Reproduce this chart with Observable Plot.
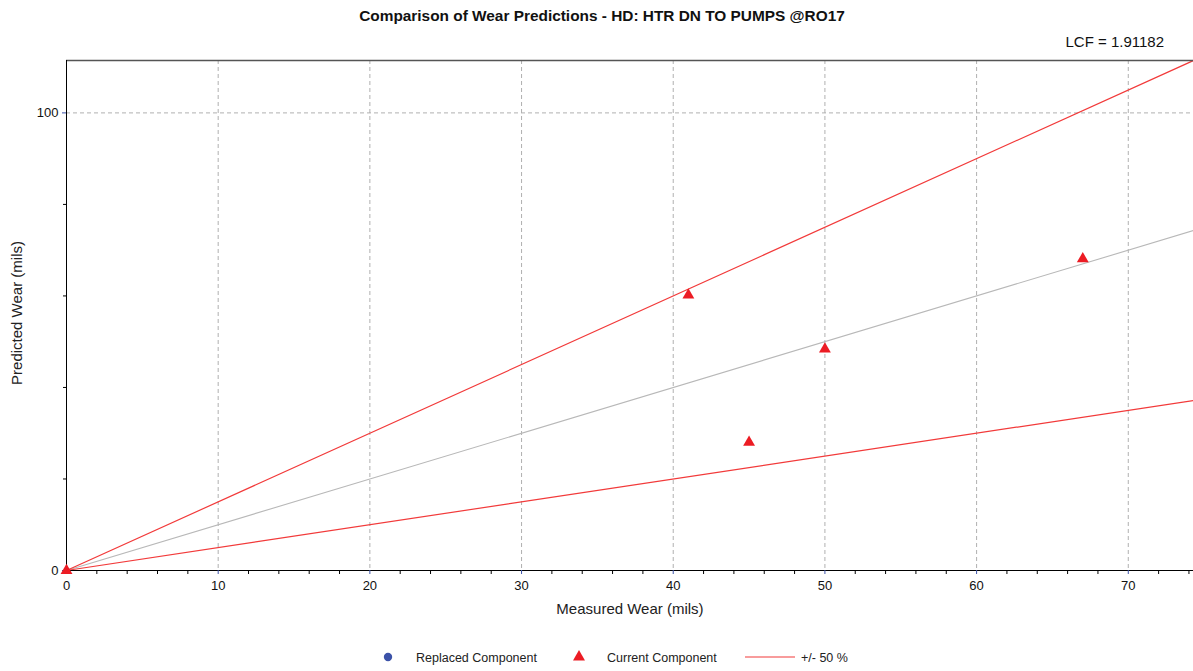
<!DOCTYPE html>
<html>
<head>
<meta charset="utf-8">
<script src="https://cdn.jsdelivr.net/npm/d3@7"></script>
<script src="https://cdn.jsdelivr.net/npm/@observablehq/plot@0.6"></script>
<style>
  html, body { margin: 0; padding: 0; background: #fff; overflow: hidden; }
  #chart svg { display: block; }
</style>
</head>
<body>
<div id="chart"></div>
<script>
// ---- data ----
const titleText = "Comparison of Wear Predictions - HD: HTR DN TO PUMPS @RO17";
const lcfText = "LCF = 1.91182";
const xLabel = "Measured Wear (mils)";
const yLabel = "Predicted Wear (mils)";

const xDomain = [0, 74.3];
const yDomain = [0, 111.45];

const xMajorTicks = [0, 10, 20, 30, 40, 50, 60, 70];
const xMinorTicks = [2, 4, 6, 8, 12, 14, 16, 18, 22, 24, 26, 28, 32, 34, 36, 38, 42, 44, 46, 48, 52, 54, 56, 58, 62, 64, 66, 68, 72, 74];
const yMajorTicks = [0, 100];
const yMinorTicks = [20, 40, 60, 80];
const xGrid = [10, 20, 30, 40, 50, 60, 70];
const yGrid = [100];

// Current component points (measured, predicted)
const currentMeasured = [0, 41, 50, 45, 67];
const currentPredicted = [0, 60.2, 48.4, 28.0, 68.1];

// reference lines (endpoints)
const lineX = [0, 74.3];
const unityY = [0, 74.3];
const upperY = [0, 111.45];
const lowerY = [0, 37.15];

const legendItems = ["Replaced Component", "Current Component", "+/- 50 %"];

const RED = "#ec1c24";
const LINE_RED = "#f23a3a";
const GRAY = "#b8b8b8";
const BLUE = "#3b52a8";

const current = currentMeasured.map((x, i) => ({x, y: currentPredicted[i]}));
const pts = arr => lineX.map((x, i) => ({x, y: arr[i]}));

const chart = Plot.plot({
  width: 1193,
  height: 671,
  marginTop: 60,
  marginBottom: 101,
  marginLeft: 66,
  marginRight: 0,
  style: {fontFamily: "'Liberation Sans', Arial, sans-serif", fontSize: "13px", background: "#fff", color: "#111"},
  x: {domain: xDomain},
  y: {domain: yDomain},
  marks: [
    Plot.ruleX(xGrid, {stroke: "#b0b0b0", strokeDasharray: "4,3"}),
    Plot.ruleY(yGrid, {stroke: "#b0b0b0", strokeDasharray: "4,3"}),
    Plot.line(pts(unityY), {x: "x", y: "y", stroke: GRAY, strokeWidth: 1.1}),
    Plot.line(pts(upperY), {x: "x", y: "y", stroke: LINE_RED, strokeWidth: 1.2}),
    Plot.line(pts(lowerY), {x: "x", y: "y", stroke: LINE_RED, strokeWidth: 1.2}),
    Plot.ruleY([yDomain[1]], {stroke: "#555", strokeWidth: 1.6}),
    Plot.ruleX([xDomain[0]], {stroke: "#000"}),
    Plot.ruleY([yDomain[0]], {stroke: "#000"}),
    Plot.axisX(xMinorTicks, {tickSize: 4, stroke: "#000", text: null, label: null}),
    Plot.axisX(xMajorTicks, {tickSize: 4, tickPadding: 6, stroke: BLUE, fill: "#111", label: null, fontSize: 13}),
    Plot.axisY(yMinorTicks, {tickSize: 3, stroke: "#000", text: null, label: null}),
    Plot.axisY(yMajorTicks, {tickSize: 4, tickPadding: 4, stroke: BLUE, fill: "#111", label: null, fontSize: 13}),
    Plot.dot(current, {x: "x", y: "y", symbol: "triangle", fill: RED, r: 4.4, stroke: "none"})
  ]
});

const svg = d3.select(chart);
const font = "'Liberation Sans', Arial, sans-serif";

svg.append("text")
  .attr("x", 602).attr("y", 21)
  .attr("text-anchor", "middle")
  .attr("font-family", font).attr("font-size", 15.4).attr("font-weight", "bold")
  .attr("fill", "#111")
  .text(titleText);

svg.append("text")
  .attr("x", 1164).attr("y", 47)
  .attr("text-anchor", "end")
  .attr("font-family", font).attr("font-size", 15)
  .attr("fill", "#111")
  .text(lcfText);

svg.append("text")
  .attr("x", 630).attr("y", 614)
  .attr("text-anchor", "middle")
  .attr("font-family", font).attr("font-size", 15)
  .attr("fill", "#222")
  .text(xLabel);

svg.append("text")
  .attr("transform", "translate(22,313) rotate(-90)")
  .attr("text-anchor", "middle")
  .attr("font-family", font).attr("font-size", 15)
  .attr("fill", "#222")
  .text(yLabel);

// legend
const lg = svg.append("g").attr("font-family", font).attr("font-size", 12.5).attr("fill", "#222").attr("text-anchor", "start");
lg.append("path").attr("d", d3.symbol(d3.symbolCircle, 55)()).attr("transform", "translate(388,657)").attr("fill", BLUE);
lg.append("text").attr("x", 416).attr("y", 661.5).attr("text-anchor", "start").text(legendItems[0]);
lg.append("path").attr("d", d3.symbol(d3.symbolTriangle, 62)()).attr("transform", "translate(579,657)").attr("fill", RED);
lg.append("text").attr("x", 607).attr("y", 661.5).attr("text-anchor", "start").text(legendItems[1]);
lg.append("line").attr("x1", 745).attr("x2", 795).attr("y1", 657).attr("y2", 657).attr("stroke", LINE_RED).attr("stroke-width", 1.2);
lg.append("text").attr("x", 801).attr("y", 661.5).attr("text-anchor", "start").text(legendItems[2]);

document.getElementById("chart").appendChild(chart);
</script>
</body>
</html>
